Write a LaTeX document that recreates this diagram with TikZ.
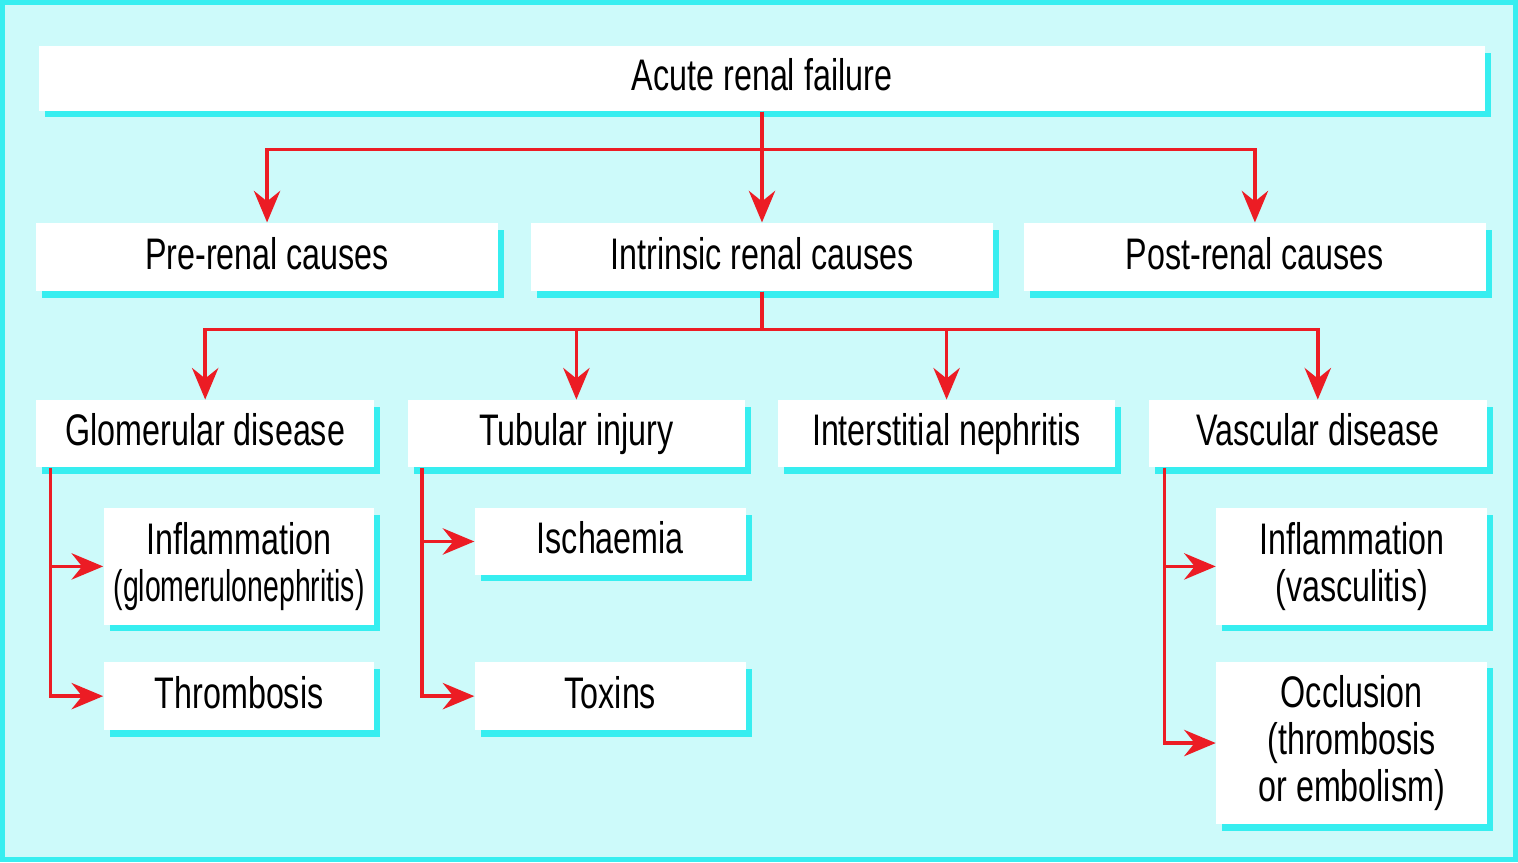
\documentclass[tikz,border=0pt]{standalone}
\usepackage{fontspec}
\setmainfont{Liberation Sans}[FakeStretch=0.73]
\usepackage{tikz}
\usetikzlibrary{arrows.meta, positioning, shadows}
\usepackage{xcolor}
\definecolor{paleCyan}{RGB}{205,250,250}
\definecolor{shadeCyan}{RGB}{55,238,240}
\definecolor{linkRed}{RGB}{236,28,36}
\tikzstyle{box} = [fill=white, inner sep=0pt, align=center,
  font=\fontsize{12.6}{13.4}\selectfont,
  drop shadow={fill=shadeCyan, opacity=1, shadow xshift=0.06cm, shadow yshift=-0.065cm}]
\tikzstyle{oneline} = [box, text height=9.5pt, text depth=2.5pt]
\tikzstyle{link} = [linkRed, line width=1pt, -{Stealth[length=9pt,width=7.5pt,inset=3pt]}]

\begin{document}
\begin{tikzpicture}[x=0.01cm, y=-0.01cm]
    % Background and frame
    \fill[paleCyan] (0,0) rectangle (1518,861);
    \draw[shadeCyan, line width=1.5pt] (1,1) rectangle (1517,860);
    \useasboundingbox (0,0) rectangle (1518,861);

    % Top box
    \node[oneline, minimum width=14.48cm, minimum height=0.65cm] (arf) at (762,77) {Acute renal failure};

    % Second row
    \node[oneline, minimum width=4.62cm, minimum height=0.68cm] (pre) at (266,256) {Pre-renal causes};
    \node[oneline, minimum width=4.62cm, minimum height=0.68cm] (intr) at (762,256) {Intrinsic renal causes};
    \node[oneline, minimum width=4.62cm, minimum height=0.68cm] (post) at (1256,256) {Post-renal causes};

    % Third row
    \node[oneline, minimum width=3.38cm, minimum height=0.67cm] (glom) at (204,433) {Glomerular disease};
    \node[oneline, minimum width=3.38cm, minimum height=0.67cm] (tub) at (576,433) {Tubular injury};
    \node[oneline, minimum width=3.38cm, minimum height=0.67cm] (inter) at (947,433) {Interstitial nephritis};
    \node[oneline, minimum width=3.38cm, minimum height=0.67cm] (vasc) at (1319,433) {Vascular disease};

    % Fourth row
    \node[box, minimum width=2.71cm, minimum height=1.17cm] (gn) at (238,566) {Inflammation\\\scalebox{0.88}[1]{(glomerulonephritis)}};
    \node[oneline, minimum width=2.71cm, minimum height=0.68cm] (thromb) at (238,696) {Thrombosis};
    \node[oneline, minimum width=2.71cm, minimum height=0.67cm] (isch) at (610,541) {Ischaemia};
    \node[oneline, minimum width=2.71cm, minimum height=0.68cm] (tox) at (610,696) {Toxins};
    \node[box, minimum width=2.71cm, minimum height=1.17cm] (vascul) at (1353,566) {Inflammation\\(vasculitis)};
    \node[box, minimum width=2.71cm, minimum height=1.63cm] (occl) at (1353,743) {Occlusion\\(thrombosis\\or embolism)};

    % Arrows from the top box
    \draw[link] (arf.south) -- (intr.north);
    \draw[link] (arf.south) -- ++(0,38) -| (pre.north);
    \draw[link] (arf.south) -- ++(0,38) -| (post.north);

    % Arrows from intrinsic causes
    \draw[link] (intr.south) -- ++(0,38) -| (glom.north);
    \draw[link] (intr.south) -- ++(0,38) -| (tub.north);
    \draw[link] (intr.south) -- ++(0,38) -| (inter.north);
    \draw[link] (intr.south) -- ++(0,38) -| (vasc.north);

    % Side branches
    \draw[link] ([xshift=0.15cm]glom.south west) |- (gn.west);
    \draw[link] ([xshift=0.15cm]glom.south west) |- (thromb.west);
    \draw[link] ([xshift=0.15cm]tub.south west) |- (isch.west);
    \draw[link] ([xshift=0.15cm]tub.south west) |- (tox.west);
    \draw[link] ([xshift=0.16cm]vasc.south west) |- (vascul.west);
    \draw[link] ([xshift=0.16cm]vasc.south west) |- (occl.west);

\end{tikzpicture}
\end{document}
